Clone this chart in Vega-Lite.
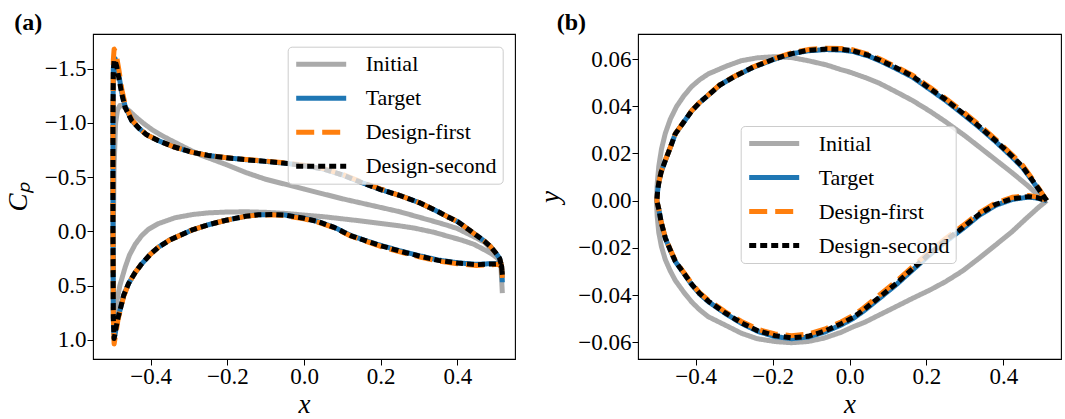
{
"$schema":"https://vega.github.io/schema/vega-lite/v6.json",
"padding":{"left":3,"top":10,"right":5,"bottom":0},
"background":"white",
"config":{
 "font":"Liberation Serif",
 "view":{"stroke":"black","strokeWidth":1.1},
 "style":{"guide-label":{"font":"Liberation Serif","fill":"black"},"guide-title":{"font":"Liberation Serif","fill":"black"},"group-title":{"font":"Liberation Serif","fill":"black"}},
 "axis":{"domain":false,"grid":false,"tickSize":6,"tickColor":"black","labelFont":"Liberation Serif","labelFontSize":23,"labelColor":"black","labelPadding":1,"titleFont":"Liberation Serif","titleFontSize":27,"titleFontStyle":"italic","titleFontWeight":"normal","titleColor":"black","labelOverlap":false,"labelFlush":false},
 "axisX":{"titlePadding":3,"labelPadding":0},
 "axisY":{"titlePadding":12},
 "legend":{"labelFont":"Liberation Serif","labelFontSize":22,"labelColor":"black","symbolType":"stroke","symbolSize":2500,"symbolStrokeWidth":5,"clipHeight":23,"rowPadding":11,"labelOffset":17,"padding":6,"fillColor":"rgba(255,255,255,0.8)","strokeColor":"#cccccc","cornerRadius":4,"symbolOffset":0},
 "title":{"font":"Liberation Serif","fontSize":24,"fontWeight":"bold","anchor":"start","frame":"bounds","color":"black","offset":-1}
},
"spacing":20,
"resolve":{"scale":{"color":"independent","strokeDash":"independent"}},
"datasets":{
"a":[
{"s":"Initial","i":0,"x":0.517,"y":0.57},{"s":"Initial","i":1,"x":0.513,"y":0.30},{"s":"Initial","i":2,"x":0.505,"y":0.24},{"s":"Initial","i":3,"x":0.490,"y":0.17},{"s":"Initial","i":4,"x":0.470,"y":0.10},{"s":"Initial","i":5,"x":0.443,"y":0.05},{"s":"Initial","i":6,"x":0.400,"y":-0.025},{"s":"Initial","i":7,"x":0.374,"y":-0.055},{"s":"Initial","i":8,"x":0.340,"y":-0.09},{"s":"Initial","i":9,"x":0.300,"y":-0.13},{"s":"Initial","i":10,"x":0.250,"y":-0.18},{"s":"Initial","i":11,"x":0.200,"y":-0.22},{"s":"Initial","i":12,"x":0.150,"y":-0.26},{"s":"Initial","i":13,"x":0.100,"y":-0.30},{"s":"Initial","i":14,"x":0.050,"y":-0.345},{"s":"Initial","i":15,"x":0.000,"y":-0.39},{"s":"Initial","i":16,"x":-0.050,"y":-0.435},{"s":"Initial","i":17,"x":-0.100,"y":-0.48},{"s":"Initial","i":18,"x":-0.150,"y":-0.54},{"s":"Initial","i":19,"x":-0.206,"y":-0.62},{"s":"Initial","i":20,"x":-0.267,"y":-0.70},{"s":"Initial","i":21,"x":-0.300,"y":-0.755},{"s":"Initial","i":22,"x":-0.353,"y":-0.85},{"s":"Initial","i":23,"x":-0.379,"y":-0.90},{"s":"Initial","i":24,"x":-0.397,"y":-0.94},{"s":"Initial","i":25,"x":-0.420,"y":-1.00},{"s":"Initial","i":26,"x":-0.440,"y":-1.06},{"s":"Initial","i":27,"x":-0.455,"y":-1.11},{"s":"Initial","i":28,"x":-0.466,"y":-1.14},{"s":"Initial","i":29,"x":-0.4745,"y":-1.16},{"s":"Initial","i":30,"x":-0.480,"y":-1.16},{"s":"Initial","i":31,"x":-0.486,"y":-1.12},{"s":"Initial","i":32,"x":-0.491,"y":-1.0},{"s":"Initial","i":33,"x":-0.495,"y":-0.6},{"s":"Initial","i":34,"x":-0.497,"y":0.0},{"s":"Initial","i":35,"x":-0.497,"y":0.6},{"s":"Initial","i":36,"x":-0.496,"y":0.92},{"s":"Initial","i":37,"x":-0.492,"y":0.80},{"s":"Initial","i":38,"x":-0.4875,"y":0.64},{"s":"Initial","i":39,"x":-0.480,"y":0.50},{"s":"Initial","i":40,"x":-0.466,"y":0.33},{"s":"Initial","i":41,"x":-0.455,"y":0.22},{"s":"Initial","i":42,"x":-0.440,"y":0.12},{"s":"Initial","i":43,"x":-0.423,"y":0.04},{"s":"Initial","i":44,"x":-0.405,"y":-0.02},{"s":"Initial","i":45,"x":-0.380,"y":-0.07},{"s":"Initial","i":46,"x":-0.336,"y":-0.125},{"s":"Initial","i":47,"x":-0.290,"y":-0.155},{"s":"Initial","i":48,"x":-0.249,"y":-0.17},{"s":"Initial","i":49,"x":-0.200,"y":-0.178},{"s":"Initial","i":50,"x":-0.150,"y":-0.18},{"s":"Initial","i":51,"x":-0.100,"y":-0.175},{"s":"Initial","i":52,"x":-0.050,"y":-0.165},{"s":"Initial","i":53,"x":0.000,"y":-0.15},{"s":"Initial","i":54,"x":0.050,"y":-0.135},{"s":"Initial","i":55,"x":0.100,"y":-0.115},{"s":"Initial","i":56,"x":0.150,"y":-0.095},{"s":"Initial","i":57,"x":0.200,"y":-0.072},{"s":"Initial","i":58,"x":0.250,"y":-0.05},{"s":"Initial","i":59,"x":0.287,"y":-0.03},{"s":"Initial","i":60,"x":0.340,"y":0.01},{"s":"Initial","i":61,"x":0.374,"y":0.045},{"s":"Initial","i":62,"x":0.410,"y":0.08},{"s":"Initial","i":63,"x":0.443,"y":0.12},{"s":"Initial","i":64,"x":0.470,"y":0.17},{"s":"Initial","i":65,"x":0.490,"y":0.21},{"s":"Initial","i":66,"x":0.505,"y":0.25},{"s":"Initial","i":67,"x":0.513,"y":0.30},{"s":"Initial","i":68,"x":0.517,"y":0.57},
{"s":"Target","i":0,"x":0.517,"y":0.47},{"s":"Target","i":1,"x":0.515,"y":0.32},{"s":"Target","i":2,"x":0.510,"y":0.25},{"s":"Target","i":3,"x":0.500,"y":0.20},{"s":"Target","i":4,"x":0.486,"y":0.14},{"s":"Target","i":5,"x":0.470,"y":0.09},{"s":"Target","i":6,"x":0.443,"y":0.02},{"s":"Target","i":7,"x":0.420,"y":-0.04},{"s":"Target","i":8,"x":0.400,"y":-0.09},{"s":"Target","i":9,"x":0.374,"y":-0.135},{"s":"Target","i":10,"x":0.350,"y":-0.18},{"s":"Target","i":11,"x":0.300,"y":-0.265},{"s":"Target","i":12,"x":0.250,"y":-0.33},{"s":"Target","i":13,"x":0.200,"y":-0.385},{"s":"Target","i":14,"x":0.150,"y":-0.45},{"s":"Target","i":15,"x":0.100,"y":-0.52},{"s":"Target","i":16,"x":0.050,"y":-0.575},{"s":"Target","i":17,"x":0.000,"y":-0.605},{"s":"Target","i":18,"x":-0.042,"y":-0.625},{"s":"Target","i":19,"x":-0.100,"y":-0.645},{"s":"Target","i":20,"x":-0.150,"y":-0.66},{"s":"Target","i":21,"x":-0.206,"y":-0.68},{"s":"Target","i":22,"x":-0.250,"y":-0.70},{"s":"Target","i":23,"x":-0.293,"y":-0.73},{"s":"Target","i":24,"x":-0.340,"y":-0.78},{"s":"Target","i":25,"x":-0.379,"y":-0.835},{"s":"Target","i":26,"x":-0.410,"y":-0.89},{"s":"Target","i":27,"x":-0.430,"y":-0.95},{"s":"Target","i":28,"x":-0.449,"y":-1.02},{"s":"Target","i":29,"x":-0.466,"y":-1.15},{"s":"Target","i":30,"x":-0.4745,"y":-1.27},{"s":"Target","i":31,"x":-0.483,"y":-1.45},{"s":"Target","i":32,"x":-0.488,"y":-1.54},{"s":"Target","i":33,"x":-0.492,"y":-1.59},{"s":"Target","i":34,"x":-0.495,"y":-1.60},{"s":"Target","i":35,"x":-0.497,"y":-1.50},{"s":"Target","i":36,"x":-0.498,"y":-1.0},{"s":"Target","i":37,"x":-0.498,"y":0.0},{"s":"Target","i":38,"x":-0.497,"y":0.8},{"s":"Target","i":39,"x":-0.495,"y":1.0},{"s":"Target","i":40,"x":-0.490,"y":0.90},{"s":"Target","i":41,"x":-0.485,"y":0.80},{"s":"Target","i":42,"x":-0.479,"y":0.72},{"s":"Target","i":43,"x":-0.470,"y":0.59},{"s":"Target","i":44,"x":-0.457,"y":0.48},{"s":"Target","i":45,"x":-0.440,"y":0.38},{"s":"Target","i":46,"x":-0.423,"y":0.30},{"s":"Target","i":47,"x":-0.400,"y":0.21},{"s":"Target","i":48,"x":-0.379,"y":0.145},{"s":"Target","i":49,"x":-0.350,"y":0.08},{"s":"Target","i":50,"x":-0.293,"y":-0.01},{"s":"Target","i":51,"x":-0.250,"y":-0.06},{"s":"Target","i":52,"x":-0.206,"y":-0.10},{"s":"Target","i":53,"x":-0.150,"y":-0.14},{"s":"Target","i":54,"x":-0.119,"y":-0.152},{"s":"Target","i":55,"x":-0.080,"y":-0.155},{"s":"Target","i":56,"x":-0.050,"y":-0.15},{"s":"Target","i":57,"x":0.000,"y":-0.12},{"s":"Target","i":58,"x":0.036,"y":-0.09},{"s":"Target","i":59,"x":0.080,"y":-0.035},{"s":"Target","i":60,"x":0.123,"y":0.04},{"s":"Target","i":61,"x":0.160,"y":0.085},{"s":"Target","i":62,"x":0.200,"y":0.13},{"s":"Target","i":63,"x":0.250,"y":0.18},{"s":"Target","i":64,"x":0.300,"y":0.225},{"s":"Target","i":65,"x":0.350,"y":0.265},{"s":"Target","i":66,"x":0.400,"y":0.29},{"s":"Target","i":67,"x":0.450,"y":0.305},{"s":"Target","i":68,"x":0.480,"y":0.30},{"s":"Target","i":69,"x":0.505,"y":0.30},{"s":"Target","i":70,"x":0.515,"y":0.32},{"s":"Target","i":71,"x":0.517,"y":0.47},
{"s":"Design-first","i":0,"x":0.517,"y":0.43},{"s":"Design-first","i":1,"x":0.515,"y":0.32},{"s":"Design-first","i":2,"x":0.510,"y":0.25},{"s":"Design-first","i":3,"x":0.500,"y":0.20},{"s":"Design-first","i":4,"x":0.486,"y":0.14},{"s":"Design-first","i":5,"x":0.470,"y":0.09},{"s":"Design-first","i":6,"x":0.443,"y":0.02},{"s":"Design-first","i":7,"x":0.420,"y":-0.04},{"s":"Design-first","i":8,"x":0.400,"y":-0.09},{"s":"Design-first","i":9,"x":0.374,"y":-0.135},{"s":"Design-first","i":10,"x":0.350,"y":-0.18},{"s":"Design-first","i":11,"x":0.300,"y":-0.265},{"s":"Design-first","i":12,"x":0.250,"y":-0.33},{"s":"Design-first","i":13,"x":0.200,"y":-0.39},{"s":"Design-first","i":14,"x":0.150,"y":-0.455},{"s":"Design-first","i":15,"x":0.100,"y":-0.525},{"s":"Design-first","i":16,"x":0.050,"y":-0.58},{"s":"Design-first","i":17,"x":0.000,"y":-0.61},{"s":"Design-first","i":18,"x":-0.042,"y":-0.63},{"s":"Design-first","i":19,"x":-0.100,"y":-0.648},{"s":"Design-first","i":20,"x":-0.150,"y":-0.662},{"s":"Design-first","i":21,"x":-0.206,"y":-0.68},{"s":"Design-first","i":22,"x":-0.250,"y":-0.70},{"s":"Design-first","i":23,"x":-0.293,"y":-0.73},{"s":"Design-first","i":24,"x":-0.340,"y":-0.78},{"s":"Design-first","i":25,"x":-0.379,"y":-0.835},{"s":"Design-first","i":26,"x":-0.410,"y":-0.89},{"s":"Design-first","i":27,"x":-0.430,"y":-0.95},{"s":"Design-first","i":28,"x":-0.449,"y":-1.03},{"s":"Design-first","i":29,"x":-0.466,"y":-1.17},{"s":"Design-first","i":30,"x":-0.4745,"y":-1.30},{"s":"Design-first","i":31,"x":-0.483,"y":-1.50},{"s":"Design-first","i":32,"x":-0.488,"y":-1.60},{"s":"Design-first","i":33,"x":-0.492,"y":-1.66},{"s":"Design-first","i":34,"x":-0.495,"y":-1.68},{"s":"Design-first","i":35,"x":-0.497,"y":-1.58},{"s":"Design-first","i":36,"x":-0.498,"y":-1.0},{"s":"Design-first","i":37,"x":-0.498,"y":0.0},{"s":"Design-first","i":38,"x":-0.497,"y":0.8},{"s":"Design-first","i":39,"x":-0.495,"y":1.04},{"s":"Design-first","i":40,"x":-0.490,"y":0.93},{"s":"Design-first","i":41,"x":-0.485,"y":0.82},{"s":"Design-first","i":42,"x":-0.479,"y":0.73},{"s":"Design-first","i":43,"x":-0.470,"y":0.60},{"s":"Design-first","i":44,"x":-0.457,"y":0.48},{"s":"Design-first","i":45,"x":-0.440,"y":0.38},{"s":"Design-first","i":46,"x":-0.423,"y":0.30},{"s":"Design-first","i":47,"x":-0.400,"y":0.21},{"s":"Design-first","i":48,"x":-0.379,"y":0.145},{"s":"Design-first","i":49,"x":-0.350,"y":0.08},{"s":"Design-first","i":50,"x":-0.293,"y":-0.01},{"s":"Design-first","i":51,"x":-0.250,"y":-0.06},{"s":"Design-first","i":52,"x":-0.206,"y":-0.10},{"s":"Design-first","i":53,"x":-0.150,"y":-0.14},{"s":"Design-first","i":54,"x":-0.119,"y":-0.15},{"s":"Design-first","i":55,"x":-0.080,"y":-0.152},{"s":"Design-first","i":56,"x":-0.050,"y":-0.145},{"s":"Design-first","i":57,"x":0.000,"y":-0.115},{"s":"Design-first","i":58,"x":0.036,"y":-0.085},{"s":"Design-first","i":59,"x":0.080,"y":-0.03},{"s":"Design-first","i":60,"x":0.123,"y":0.045},{"s":"Design-first","i":61,"x":0.160,"y":0.09},{"s":"Design-first","i":62,"x":0.200,"y":0.14},{"s":"Design-first","i":63,"x":0.250,"y":0.19},{"s":"Design-first","i":64,"x":0.300,"y":0.235},{"s":"Design-first","i":65,"x":0.350,"y":0.275},{"s":"Design-first","i":66,"x":0.400,"y":0.30},{"s":"Design-first","i":67,"x":0.450,"y":0.315},{"s":"Design-first","i":68,"x":0.480,"y":0.31},{"s":"Design-first","i":69,"x":0.505,"y":0.305},{"s":"Design-first","i":70,"x":0.515,"y":0.32},{"s":"Design-first","i":71,"x":0.517,"y":0.43},
{"s":"Design-second","i":0,"x":0.517,"y":0.40},{"s":"Design-second","i":1,"x":0.515,"y":0.32},{"s":"Design-second","i":2,"x":0.510,"y":0.25},{"s":"Design-second","i":3,"x":0.500,"y":0.20},{"s":"Design-second","i":4,"x":0.486,"y":0.14},{"s":"Design-second","i":5,"x":0.470,"y":0.09},{"s":"Design-second","i":6,"x":0.443,"y":0.02},{"s":"Design-second","i":7,"x":0.420,"y":-0.04},{"s":"Design-second","i":8,"x":0.400,"y":-0.09},{"s":"Design-second","i":9,"x":0.374,"y":-0.135},{"s":"Design-second","i":10,"x":0.350,"y":-0.18},{"s":"Design-second","i":11,"x":0.300,"y":-0.265},{"s":"Design-second","i":12,"x":0.250,"y":-0.33},{"s":"Design-second","i":13,"x":0.200,"y":-0.385},{"s":"Design-second","i":14,"x":0.150,"y":-0.45},{"s":"Design-second","i":15,"x":0.100,"y":-0.52},{"s":"Design-second","i":16,"x":0.050,"y":-0.575},{"s":"Design-second","i":17,"x":0.000,"y":-0.605},{"s":"Design-second","i":18,"x":-0.042,"y":-0.625},{"s":"Design-second","i":19,"x":-0.100,"y":-0.645},{"s":"Design-second","i":20,"x":-0.150,"y":-0.66},{"s":"Design-second","i":21,"x":-0.206,"y":-0.68},{"s":"Design-second","i":22,"x":-0.250,"y":-0.70},{"s":"Design-second","i":23,"x":-0.293,"y":-0.73},{"s":"Design-second","i":24,"x":-0.340,"y":-0.78},{"s":"Design-second","i":25,"x":-0.379,"y":-0.835},{"s":"Design-second","i":26,"x":-0.410,"y":-0.89},{"s":"Design-second","i":27,"x":-0.430,"y":-0.95},{"s":"Design-second","i":28,"x":-0.449,"y":-1.02},{"s":"Design-second","i":29,"x":-0.466,"y":-1.14},{"s":"Design-second","i":30,"x":-0.4745,"y":-1.26},{"s":"Design-second","i":31,"x":-0.483,"y":-1.42},{"s":"Design-second","i":32,"x":-0.488,"y":-1.52},{"s":"Design-second","i":33,"x":-0.492,"y":-1.57},{"s":"Design-second","i":34,"x":-0.495,"y":-1.58},{"s":"Design-second","i":35,"x":-0.497,"y":-1.48},{"s":"Design-second","i":36,"x":-0.498,"y":-1.0},{"s":"Design-second","i":37,"x":-0.498,"y":0.0},{"s":"Design-second","i":38,"x":-0.497,"y":0.8},{"s":"Design-second","i":39,"x":-0.495,"y":0.99},{"s":"Design-second","i":40,"x":-0.490,"y":0.89},{"s":"Design-second","i":41,"x":-0.485,"y":0.80},{"s":"Design-second","i":42,"x":-0.479,"y":0.72},{"s":"Design-second","i":43,"x":-0.470,"y":0.59},{"s":"Design-second","i":44,"x":-0.457,"y":0.48},{"s":"Design-second","i":45,"x":-0.440,"y":0.38},{"s":"Design-second","i":46,"x":-0.423,"y":0.30},{"s":"Design-second","i":47,"x":-0.400,"y":0.21},{"s":"Design-second","i":48,"x":-0.379,"y":0.145},{"s":"Design-second","i":49,"x":-0.350,"y":0.08},{"s":"Design-second","i":50,"x":-0.293,"y":-0.01},{"s":"Design-second","i":51,"x":-0.250,"y":-0.06},{"s":"Design-second","i":52,"x":-0.206,"y":-0.10},{"s":"Design-second","i":53,"x":-0.150,"y":-0.14},{"s":"Design-second","i":54,"x":-0.119,"y":-0.152},{"s":"Design-second","i":55,"x":-0.080,"y":-0.155},{"s":"Design-second","i":56,"x":-0.050,"y":-0.15},{"s":"Design-second","i":57,"x":0.000,"y":-0.12},{"s":"Design-second","i":58,"x":0.036,"y":-0.09},{"s":"Design-second","i":59,"x":0.080,"y":-0.033},{"s":"Design-second","i":60,"x":0.123,"y":0.042},{"s":"Design-second","i":61,"x":0.160,"y":0.087},{"s":"Design-second","i":62,"x":0.200,"y":0.133},{"s":"Design-second","i":63,"x":0.250,"y":0.183},{"s":"Design-second","i":64,"x":0.300,"y":0.228},{"s":"Design-second","i":65,"x":0.350,"y":0.268},{"s":"Design-second","i":66,"x":0.400,"y":0.293},{"s":"Design-second","i":67,"x":0.450,"y":0.308},{"s":"Design-second","i":68,"x":0.480,"y":0.303},{"s":"Design-second","i":69,"x":0.505,"y":0.30},{"s":"Design-second","i":70,"x":0.515,"y":0.32},{"s":"Design-second","i":71,"x":0.517,"y":0.40}
],
"b":[
{"s":"Initial","i":0,"x":0.513,"y":0.0},{"s":"Initial","i":1,"x":0.490,"y":0.0025},{"s":"Initial","i":2,"x":0.460,"y":0.0068},{"s":"Initial","i":3,"x":0.423,"y":0.0118},{"s":"Initial","i":4,"x":0.380,"y":0.0173},{"s":"Initial","i":5,"x":0.337,"y":0.0228},{"s":"Initial","i":6,"x":0.300,"y":0.0275},{"s":"Initial","i":7,"x":0.250,"y":0.0334},{"s":"Initial","i":8,"x":0.210,"y":0.0378},{"s":"Initial","i":9,"x":0.164,"y":0.0424},{"s":"Initial","i":10,"x":0.120,"y":0.0462},{"s":"Initial","i":11,"x":0.078,"y":0.0497},{"s":"Initial","i":12,"x":0.040,"y":0.0522},{"s":"Initial","i":13,"x":0.000,"y":0.0545},{"s":"Initial","i":14,"x":-0.022,"y":0.0555},{"s":"Initial","i":15,"x":-0.060,"y":0.0575},{"s":"Initial","i":16,"x":-0.108,"y":0.0593},{"s":"Initial","i":17,"x":-0.150,"y":0.0606},{"s":"Initial","i":18,"x":-0.194,"y":0.0610},{"s":"Initial","i":19,"x":-0.240,"y":0.0605},{"s":"Initial","i":20,"x":-0.281,"y":0.0593},{"s":"Initial","i":21,"x":-0.320,"y":0.0570},{"s":"Initial","i":22,"x":-0.367,"y":0.0537},{"s":"Initial","i":23,"x":-0.390,"y":0.0512},{"s":"Initial","i":24,"x":-0.410,"y":0.0484},{"s":"Initial","i":25,"x":-0.430,"y":0.0446},{"s":"Initial","i":26,"x":-0.450,"y":0.0398},{"s":"Initial","i":27,"x":-0.466,"y":0.0345},{"s":"Initial","i":28,"x":-0.479,"y":0.0285},{"s":"Initial","i":29,"x":-0.489,"y":0.0218},{"s":"Initial","i":30,"x":-0.496,"y":0.0145},{"s":"Initial","i":31,"x":-0.500,"y":0.0072},{"s":"Initial","i":32,"x":-0.502,"y":0.0},{"s":"Initial","i":33,"x":-0.500,"y":-0.0068},{"s":"Initial","i":34,"x":-0.496,"y":-0.0135},{"s":"Initial","i":35,"x":-0.489,"y":-0.0195},{"s":"Initial","i":36,"x":-0.479,"y":-0.0250},{"s":"Initial","i":37,"x":-0.466,"y":-0.0298},{"s":"Initial","i":38,"x":-0.453,"y":-0.0338},{"s":"Initial","i":39,"x":-0.430,"y":-0.0390},{"s":"Initial","i":40,"x":-0.410,"y":-0.0430},{"s":"Initial","i":41,"x":-0.390,"y":-0.0462},{"s":"Initial","i":42,"x":-0.367,"y":-0.0492},{"s":"Initial","i":43,"x":-0.320,"y":-0.0530},{"s":"Initial","i":44,"x":-0.281,"y":-0.0562},{"s":"Initial","i":45,"x":-0.240,"y":-0.0585},{"s":"Initial","i":46,"x":-0.194,"y":-0.0597},{"s":"Initial","i":47,"x":-0.151,"y":-0.0602},{"s":"Initial","i":48,"x":-0.108,"y":-0.0597},{"s":"Initial","i":49,"x":-0.065,"y":-0.0582},{"s":"Initial","i":50,"x":-0.022,"y":-0.0558},{"s":"Initial","i":51,"x":0.009,"y":-0.0535},{"s":"Initial","i":52,"x":0.040,"y":-0.0515},{"s":"Initial","i":53,"x":0.078,"y":-0.0484},{"s":"Initial","i":54,"x":0.120,"y":-0.0450},{"s":"Initial","i":55,"x":0.164,"y":-0.0414},{"s":"Initial","i":56,"x":0.210,"y":-0.0378},{"s":"Initial","i":57,"x":0.250,"y":-0.0343},{"s":"Initial","i":58,"x":0.294,"y":-0.0298},{"s":"Initial","i":59,"x":0.337,"y":-0.0244},{"s":"Initial","i":60,"x":0.380,"y":-0.0188},{"s":"Initial","i":61,"x":0.423,"y":-0.0131},{"s":"Initial","i":62,"x":0.460,"y":-0.0075},{"s":"Initial","i":63,"x":0.492,"y":-0.0028},{"s":"Initial","i":64,"x":0.513,"y":0.0},
{"s":"Target","i":0,"x":0.513,"y":0.0},{"s":"Target","i":1,"x":0.495,"y":0.0040},{"s":"Target","i":2,"x":0.475,"y":0.0085},{"s":"Target","i":3,"x":0.450,"y":0.0140},{"s":"Target","i":4,"x":0.423,"y":0.0184},{"s":"Target","i":5,"x":0.380,"y":0.0250},{"s":"Target","i":6,"x":0.337,"y":0.0311},{"s":"Target","i":7,"x":0.300,"y":0.0360},{"s":"Target","i":8,"x":0.250,"y":0.0424},{"s":"Target","i":9,"x":0.210,"y":0.0470},{"s":"Target","i":10,"x":0.164,"y":0.0523},{"s":"Target","i":11,"x":0.120,"y":0.0560},{"s":"Target","i":12,"x":0.078,"y":0.0593},{"s":"Target","i":13,"x":0.050,"y":0.0612},{"s":"Target","i":14,"x":0.009,"y":0.0632},{"s":"Target","i":15,"x":-0.022,"y":0.0638},{"s":"Target","i":16,"x":-0.060,"y":0.0640},{"s":"Target","i":17,"x":-0.108,"y":0.0635},{"s":"Target","i":18,"x":-0.150,"y":0.0622},{"s":"Target","i":19,"x":-0.194,"y":0.0600},{"s":"Target","i":20,"x":-0.250,"y":0.0565},{"s":"Target","i":21,"x":-0.300,"y":0.0525},{"s":"Target","i":22,"x":-0.337,"y":0.0490},{"s":"Target","i":23,"x":-0.367,"y":0.0447},{"s":"Target","i":24,"x":-0.390,"y":0.0415},{"s":"Target","i":25,"x":-0.410,"y":0.0381},{"s":"Target","i":26,"x":-0.430,"y":0.0335},{"s":"Target","i":27,"x":-0.453,"y":0.0283},{"s":"Target","i":28,"x":-0.466,"y":0.0225},{"s":"Target","i":29,"x":-0.479,"y":0.0170},{"s":"Target","i":30,"x":-0.490,"y":0.0120},{"s":"Target","i":31,"x":-0.496,"y":0.0075},{"s":"Target","i":32,"x":-0.499,"y":0.0040},{"s":"Target","i":33,"x":-0.501,"y":0.0},{"s":"Target","i":34,"x":-0.499,"y":-0.0015},{"s":"Target","i":35,"x":-0.496,"y":-0.0035},{"s":"Target","i":36,"x":-0.490,"y":-0.0090},{"s":"Target","i":37,"x":-0.479,"y":-0.0159},{"s":"Target","i":38,"x":-0.466,"y":-0.0210},{"s":"Target","i":39,"x":-0.453,"y":-0.0258},{"s":"Target","i":40,"x":-0.430,"y":-0.0310},{"s":"Target","i":41,"x":-0.410,"y":-0.0357},{"s":"Target","i":42,"x":-0.390,"y":-0.0395},{"s":"Target","i":43,"x":-0.367,"y":-0.0428},{"s":"Target","i":44,"x":-0.324,"y":-0.0477},{"s":"Target","i":45,"x":-0.281,"y":-0.0520},{"s":"Target","i":46,"x":-0.237,"y":-0.0555},{"s":"Target","i":47,"x":-0.194,"y":-0.0576},{"s":"Target","i":48,"x":-0.151,"y":-0.0585},{"s":"Target","i":49,"x":-0.108,"y":-0.0578},{"s":"Target","i":50,"x":-0.065,"y":-0.0557},{"s":"Target","i":51,"x":-0.022,"y":-0.0527},{"s":"Target","i":52,"x":0.009,"y":-0.0500},{"s":"Target","i":53,"x":0.035,"y":-0.0470},{"s":"Target","i":54,"x":0.078,"y":-0.0414},{"s":"Target","i":55,"x":0.121,"y":-0.0357},{"s":"Target","i":56,"x":0.164,"y":-0.0294},{"s":"Target","i":57,"x":0.207,"y":-0.0232},{"s":"Target","i":58,"x":0.250,"y":-0.0174},{"s":"Target","i":59,"x":0.294,"y":-0.0120},{"s":"Target","i":60,"x":0.337,"y":-0.0063},{"s":"Target","i":61,"x":0.380,"y":-0.0020},{"s":"Target","i":62,"x":0.423,"y":0.0005},{"s":"Target","i":63,"x":0.466,"y":0.0015},{"s":"Target","i":64,"x":0.490,"y":0.0010},{"s":"Target","i":65,"x":0.513,"y":0.0},
{"s":"Design-first","i":0,"x":0.513,"y":0.0},{"s":"Design-first","i":1,"x":0.495,"y":0.0045},{"s":"Design-first","i":2,"x":0.475,"y":0.0093},{"s":"Design-first","i":3,"x":0.450,"y":0.0150},{"s":"Design-first","i":4,"x":0.423,"y":0.0194},{"s":"Design-first","i":5,"x":0.380,"y":0.0260},{"s":"Design-first","i":6,"x":0.337,"y":0.0321},{"s":"Design-first","i":7,"x":0.300,"y":0.0370},{"s":"Design-first","i":8,"x":0.250,"y":0.0433},{"s":"Design-first","i":9,"x":0.210,"y":0.0479},{"s":"Design-first","i":10,"x":0.164,"y":0.0531},{"s":"Design-first","i":11,"x":0.120,"y":0.0568},{"s":"Design-first","i":12,"x":0.078,"y":0.0601},{"s":"Design-first","i":13,"x":0.050,"y":0.0619},{"s":"Design-first","i":14,"x":0.009,"y":0.0639},{"s":"Design-first","i":15,"x":-0.022,"y":0.0645},{"s":"Design-first","i":16,"x":-0.060,"y":0.0646},{"s":"Design-first","i":17,"x":-0.108,"y":0.0640},{"s":"Design-first","i":18,"x":-0.150,"y":0.0626},{"s":"Design-first","i":19,"x":-0.194,"y":0.0603},{"s":"Design-first","i":20,"x":-0.250,"y":0.0567},{"s":"Design-first","i":21,"x":-0.300,"y":0.0526},{"s":"Design-first","i":22,"x":-0.337,"y":0.0491},{"s":"Design-first","i":23,"x":-0.367,"y":0.0448},{"s":"Design-first","i":24,"x":-0.390,"y":0.0416},{"s":"Design-first","i":25,"x":-0.410,"y":0.0382},{"s":"Design-first","i":26,"x":-0.430,"y":0.0336},{"s":"Design-first","i":27,"x":-0.453,"y":0.0284},{"s":"Design-first","i":28,"x":-0.466,"y":0.0226},{"s":"Design-first","i":29,"x":-0.479,"y":0.0171},{"s":"Design-first","i":30,"x":-0.490,"y":0.0121},{"s":"Design-first","i":31,"x":-0.496,"y":0.0076},{"s":"Design-first","i":32,"x":-0.499,"y":0.0040},{"s":"Design-first","i":33,"x":-0.501,"y":0.0},{"s":"Design-first","i":34,"x":-0.499,"y":-0.0015},{"s":"Design-first","i":35,"x":-0.496,"y":-0.0035},{"s":"Design-first","i":36,"x":-0.490,"y":-0.0089},{"s":"Design-first","i":37,"x":-0.479,"y":-0.0157},{"s":"Design-first","i":38,"x":-0.466,"y":-0.0207},{"s":"Design-first","i":39,"x":-0.453,"y":-0.0254},{"s":"Design-first","i":40,"x":-0.430,"y":-0.0306},{"s":"Design-first","i":41,"x":-0.410,"y":-0.0352},{"s":"Design-first","i":42,"x":-0.390,"y":-0.0390},{"s":"Design-first","i":43,"x":-0.367,"y":-0.0422},{"s":"Design-first","i":44,"x":-0.324,"y":-0.0470},{"s":"Design-first","i":45,"x":-0.281,"y":-0.0512},{"s":"Design-first","i":46,"x":-0.237,"y":-0.0546},{"s":"Design-first","i":47,"x":-0.194,"y":-0.0565},{"s":"Design-first","i":48,"x":-0.151,"y":-0.0572},{"s":"Design-first","i":49,"x":-0.108,"y":-0.0566},{"s":"Design-first","i":50,"x":-0.065,"y":-0.0545},{"s":"Design-first","i":51,"x":-0.022,"y":-0.0514},{"s":"Design-first","i":52,"x":0.009,"y":-0.0487},{"s":"Design-first","i":53,"x":0.035,"y":-0.0457},{"s":"Design-first","i":54,"x":0.078,"y":-0.0400},{"s":"Design-first","i":55,"x":0.121,"y":-0.0343},{"s":"Design-first","i":56,"x":0.164,"y":-0.0280},{"s":"Design-first","i":57,"x":0.207,"y":-0.0218},{"s":"Design-first","i":58,"x":0.250,"y":-0.0160},{"s":"Design-first","i":59,"x":0.294,"y":-0.0107},{"s":"Design-first","i":60,"x":0.337,"y":-0.0052},{"s":"Design-first","i":61,"x":0.380,"y":-0.0010},{"s":"Design-first","i":62,"x":0.423,"y":0.0014},{"s":"Design-first","i":63,"x":0.466,"y":0.0022},{"s":"Design-first","i":64,"x":0.490,"y":0.0015},{"s":"Design-first","i":65,"x":0.513,"y":0.0},
{"s":"Design-second","i":0,"x":0.513,"y":0.0},{"s":"Design-second","i":1,"x":0.495,"y":0.0042},{"s":"Design-second","i":2,"x":0.475,"y":0.0088},{"s":"Design-second","i":3,"x":0.450,"y":0.0144},{"s":"Design-second","i":4,"x":0.423,"y":0.0188},{"s":"Design-second","i":5,"x":0.380,"y":0.0254},{"s":"Design-second","i":6,"x":0.337,"y":0.0315},{"s":"Design-second","i":7,"x":0.300,"y":0.0364},{"s":"Design-second","i":8,"x":0.250,"y":0.0428},{"s":"Design-second","i":9,"x":0.210,"y":0.0474},{"s":"Design-second","i":10,"x":0.164,"y":0.0527},{"s":"Design-second","i":11,"x":0.120,"y":0.0564},{"s":"Design-second","i":12,"x":0.078,"y":0.0596},{"s":"Design-second","i":13,"x":0.050,"y":0.0615},{"s":"Design-second","i":14,"x":0.009,"y":0.0635},{"s":"Design-second","i":15,"x":-0.022,"y":0.0641},{"s":"Design-second","i":16,"x":-0.060,"y":0.0642},{"s":"Design-second","i":17,"x":-0.108,"y":0.0637},{"s":"Design-second","i":18,"x":-0.150,"y":0.0623},{"s":"Design-second","i":19,"x":-0.194,"y":0.0601},{"s":"Design-second","i":20,"x":-0.250,"y":0.0566},{"s":"Design-second","i":21,"x":-0.300,"y":0.0525},{"s":"Design-second","i":22,"x":-0.337,"y":0.0490},{"s":"Design-second","i":23,"x":-0.367,"y":0.0447},{"s":"Design-second","i":24,"x":-0.390,"y":0.0415},{"s":"Design-second","i":25,"x":-0.410,"y":0.0381},{"s":"Design-second","i":26,"x":-0.430,"y":0.0335},{"s":"Design-second","i":27,"x":-0.453,"y":0.0283},{"s":"Design-second","i":28,"x":-0.466,"y":0.0225},{"s":"Design-second","i":29,"x":-0.479,"y":0.0170},{"s":"Design-second","i":30,"x":-0.490,"y":0.0120},{"s":"Design-second","i":31,"x":-0.496,"y":0.0075},{"s":"Design-second","i":32,"x":-0.499,"y":0.0040},{"s":"Design-second","i":33,"x":-0.501,"y":0.0},{"s":"Design-second","i":34,"x":-0.499,"y":-0.0015},{"s":"Design-second","i":35,"x":-0.496,"y":-0.0035},{"s":"Design-second","i":36,"x":-0.490,"y":-0.0090},{"s":"Design-second","i":37,"x":-0.479,"y":-0.0158},{"s":"Design-second","i":38,"x":-0.466,"y":-0.0209},{"s":"Design-second","i":39,"x":-0.453,"y":-0.0257},{"s":"Design-second","i":40,"x":-0.430,"y":-0.0309},{"s":"Design-second","i":41,"x":-0.410,"y":-0.0355},{"s":"Design-second","i":42,"x":-0.390,"y":-0.0393},{"s":"Design-second","i":43,"x":-0.367,"y":-0.0426},{"s":"Design-second","i":44,"x":-0.324,"y":-0.0475},{"s":"Design-second","i":45,"x":-0.281,"y":-0.0518},{"s":"Design-second","i":46,"x":-0.237,"y":-0.0552},{"s":"Design-second","i":47,"x":-0.194,"y":-0.0572},{"s":"Design-second","i":48,"x":-0.151,"y":-0.0581},{"s":"Design-second","i":49,"x":-0.108,"y":-0.0575},{"s":"Design-second","i":50,"x":-0.065,"y":-0.0553},{"s":"Design-second","i":51,"x":-0.022,"y":-0.0522},{"s":"Design-second","i":52,"x":0.009,"y":-0.0495},{"s":"Design-second","i":53,"x":0.035,"y":-0.0465},{"s":"Design-second","i":54,"x":0.078,"y":-0.0409},{"s":"Design-second","i":55,"x":0.121,"y":-0.0352},{"s":"Design-second","i":56,"x":0.164,"y":-0.0289},{"s":"Design-second","i":57,"x":0.207,"y":-0.0227},{"s":"Design-second","i":58,"x":0.250,"y":-0.0169},{"s":"Design-second","i":59,"x":0.294,"y":-0.0115},{"s":"Design-second","i":60,"x":0.337,"y":-0.0058},{"s":"Design-second","i":61,"x":0.380,"y":-0.0016},{"s":"Design-second","i":62,"x":0.423,"y":0.0008},{"s":"Design-second","i":63,"x":0.466,"y":0.0017},{"s":"Design-second","i":64,"x":0.490,"y":0.0012},{"s":"Design-second","i":65,"x":0.513,"y":0.0}
]
},
"hconcat":[
{
 "width":422,"height":325,
 "title":{"text":"(a)","dx":10,"font":"Liberation Serif","fontSize":24,"fontWeight":"bold"},
 "data":{"name":"a"},
 "mark":{"type":"line","strokeWidth":5,"strokeJoin":"round"},
 "encoding":{
  "x":{"field":"x","type":"quantitative","scale":{"domain":[-0.55,0.55],"nice":false,"zero":false},"axis":{"values":[-0.4,-0.2,0,0.2,0.4],"format":".1f","title":"x","labelFont":"Liberation Serif","titleFont":"Liberation Serif"}},
  "y":{"field":"y","type":"quantitative","scale":{"domain":[-1.82,1.178],"reverse":true,"nice":false,"zero":false},"axis":{"values":[-1.5,-1,-0.5,0,0.5,1],"format":".1f","title":"Cₚ","titlePadding":12,"labelFont":"Liberation Serif","titleFont":"Liberation Serif"}},
  "color":{"field":"s","type":"nominal","scale":{"domain":["Initial","Target","Design-first","Design-second"],"range":["#aaaaaa","#1f77b4","#ff7f0e","#000000"]},"legend":{"orient":"none","legendX":194.7,"legendY":12.7,"title":null}},
  "strokeDash":{"field":"s","type":"nominal","scale":{"domain":["Initial","Target","Design-first","Design-second"],"range":[[1,0],[1,0],[18,8],[7,4]]},"legend":{"orient":"none","legendX":194.7,"legendY":12.7,"title":null}},
  "order":{"field":"i","type":"quantitative"}
 }
},
{
 "width":423,"height":325,
 "title":{"text":"(b)","dx":20,"font":"Liberation Serif","fontSize":24,"fontWeight":"bold"},
 "data":{"name":"b"},
 "mark":{"type":"line","strokeWidth":5,"strokeJoin":"round"},
 "encoding":{
  "x":{"field":"x","type":"quantitative","scale":{"domain":[-0.55,0.55],"nice":false,"zero":false},"axis":{"values":[-0.4,-0.2,0,0.2,0.4],"format":".1f","title":"x","labelFont":"Liberation Serif","titleFont":"Liberation Serif"}},
  "y":{"field":"y","type":"quantitative","scale":{"domain":[-0.0671,0.0706],"nice":false,"zero":false},"axis":{"values":[-0.06,-0.04,-0.02,0,0.02,0.04,0.06],"format":".2f","title":"y","titlePadding":13,"labelFont":"Liberation Serif","titleFont":"Liberation Serif"}},
  "color":{"field":"s","type":"nominal","scale":{"domain":["Initial","Target","Design-first","Design-second"],"range":["#aaaaaa","#1f77b4","#ff7f0e","#000000"]},"legend":{"orient":"none","legendX":102.7,"legendY":92,"title":null}},
  "strokeDash":{"field":"s","type":"nominal","scale":{"domain":["Initial","Target","Design-first","Design-second"],"range":[[1,0],[1,0],[18,8],[7,4]]},"legend":{"orient":"none","legendX":102.7,"legendY":92,"title":null}},
  "order":{"field":"i","type":"quantitative"}
 }
}
]
}
